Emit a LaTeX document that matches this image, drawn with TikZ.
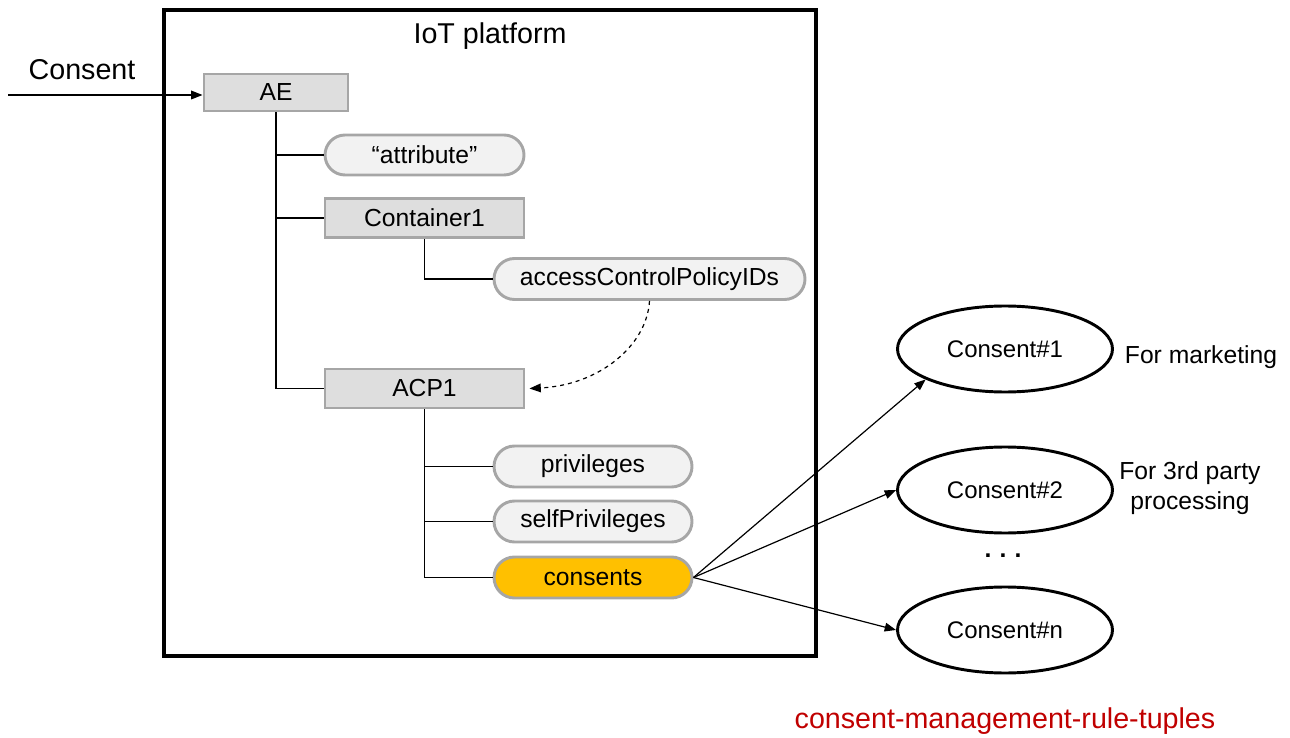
\documentclass[tikz,border=0pt]{standalone}
\usepackage{fontspec}
\setmainfont{Liberation Sans}
\usetikzlibrary{arrows.meta,shapes.geometric,shapes.misc}

\definecolor{boxfill}{HTML}{DEDEDE}
\definecolor{pillfill}{HTML}{F2F2F2}
\definecolor{edgegray}{HTML}{A6A6A6}
\definecolor{consentgold}{HTML}{FFC000}
\definecolor{tuplered}{HTML}{C00000}

\tikzset{
  resbox/.style={draw=edgegray, fill=boxfill, line width=2.2pt, inner sep=0pt,
    font=\fontsize{18.5}{20}\selectfont},
  attrpill/.style={draw=edgegray, fill=pillfill, line width=2.2pt, inner sep=0pt,
    rounded rectangle, font=\fontsize{18.5}{20}\selectfont},
  rule/.style={ellipse, draw=black, line width=2.2pt, inner sep=0pt,
    minimum width=161.25pt, minimum height=64.5pt,
    font=\fontsize{18}{20}\selectfont},
  tree/.style={line width=1.1pt, draw=black},
  link/.style={line width=0.9pt, -{Triangle[length=8.5pt,width=6.5pt]}},
  label/.style={inner sep=0pt, font=\fontsize{18.5}{22.5}\selectfont, align=center},
  biglabel/.style={inner sep=0pt, font=\fontsize{21.5}{24}\selectfont},
}

\begin{document}
\begin{tikzpicture}[x=0.75pt, y=-0.75pt]
  \useasboundingbox (0,0) rectangle (1290,738);

  % platform frame
  \node[draw=black, line width=2.4pt, inner sep=0pt, minimum width=489pt, minimum height=484.5pt]
    (platform) at (490,333) {};
  \node[biglabel] (ptitle) at (490,36) {IoT platform};

  % resource tree
  \node[resbox, minimum width=108pt, minimum height=27.75pt] (ae) at (276,92.5) {AE};
  \node[attrpill, minimum width=149.25pt, minimum height=30pt] (attr) at (424.5,155) {“attribute”};
  \node[resbox, minimum width=149.25pt, minimum height=29.25pt] (cont) at (424.5,218) {Container1};
  \node[attrpill, minimum width=233.25pt, minimum height=30.75pt] (acpids) at (649.5,279) {accessControlPolicyIDs};
  \node[resbox, minimum width=149.25pt, minimum height=29.25pt] (acp) at (424.5,388.5) {ACP1};
  \node[attrpill, minimum width=148.5pt, minimum height=30.75pt] (priv) at (593,466.5) {privileges};
  \node[attrpill, minimum width=148.5pt, minimum height=30.75pt] (spriv) at (593,521.5) {selfPrivileges};
  \node[attrpill, fill=consentgold, minimum width=148.5pt, minimum height=30.75pt] (cons) at (593,577.5) {consents};

  % tree branches
  \draw[tree, line width=1.5pt] (ae.south) -- (ae.south |- acp.west);
  \draw[tree] (ae.south |- attr.west) -- (attr.west);
  \draw[tree] (ae.south |- cont.west) -- (cont.west);
  \draw[tree] (ae.south |- acp.west) -- (acp.west);
  \draw[tree] (cont.south) -- (cont.south |- acpids.west) -- (acpids.west);
  \draw[tree] (acp.south) -- (acp.south |- cons.west);
  \draw[tree] (acp.south |- priv.west) -- (priv.west);
  \draw[tree] (acp.south |- spriv.west) -- (spriv.west);
  \draw[tree] (acp.south |- cons.west) -- (cons.west);

  % incoming consent
  \coordinate (src) at (8,95);
  \node[biglabel] (inlabel) at (82,70) {Consent};
  \draw[link] (src) -- (src -| ae.west);

  % policy reference
  \draw[line width=0.9pt, dashed, -{Triangle[length=8.5pt,width=6.5pt]}]
    (acpids.south) .. controls (647,345) and (600,385) .. ([xshift=3pt]acp.east);

  % consent rule tuples
  \node[rule] (c1) at (1005,349) {Consent\#1};
  \node[rule] (c2) at (1005,490) {Consent\#2};
  \node[rule] (cn) at (1005,630) {Consent\#n};
  \node[label] (l1) at (1201,357) {For marketing};
  \node[label] (l2) at (1190,488) {For 3rd party\\processing};
  \node[label] (dots) at (1003,556) {\textbf{.\,\,.\,\,.}};
  \node[biglabel, text=tuplered] (tuples) at (1005,721) {consent-management-rule-tuples};

  \draw[link] (cons.east) -- (c1.201);
  \draw[link] (cons.east) -- (c2.west);
  \draw[link] (cons.east) -- (cn.west);
\end{tikzpicture}
\end{document}
